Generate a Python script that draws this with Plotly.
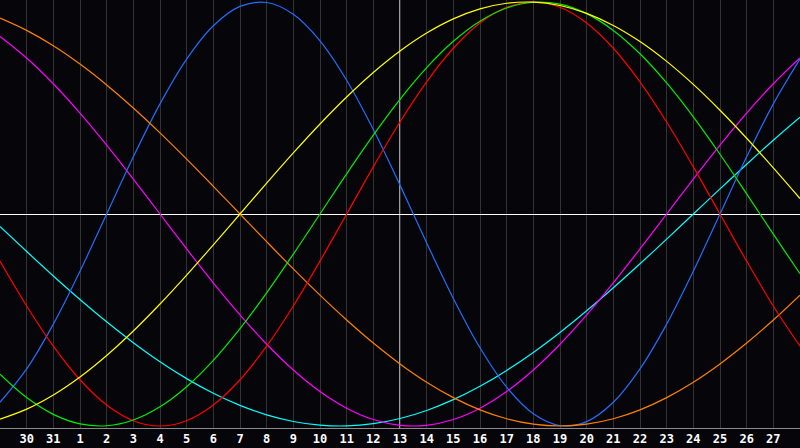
import plotly.graph_objects as go

# Day labels for each plotted day (index 0..30); ticks shown for 1..29
day_labels = ["29", "30", "31"] + [str(d) for d in range(1, 29)]
today_index = 15  # white vertical marker ("13")

# Values, one per day (index 0..30)
physical = [-0.8879, -0.7308, -0.5196, -0.2698, 0.0, 0.2698, 0.5196, 0.7308, 0.8879, 0.9791,
            0.9977, 0.9423, 0.8170, 0.6311, 0.3984, 0.1362, -0.1362, -0.3984, -0.6311, -0.8170,
            -0.9423, -0.9977, -0.9791, -0.8879, -0.7308, -0.5196, -0.2698, 0.0, 0.2698, 0.5196, 0.7308]
emotional = [-0.2225, -0.4339, -0.6235, -0.7818, -0.9010, -0.9749, -1.0, -0.9749, -0.9010, -0.7818,
             -0.6235, -0.4339, -0.2225, 0.0, 0.2225, 0.4339, 0.6235, 0.7818, 0.9010, 0.9749,
             1.0, 0.9749, 0.9010, 0.7818, 0.6235, 0.4339, 0.2225, 0.0, -0.2225, -0.4339, -0.6235]
intellectual = [-0.7557, -0.8660, -0.9450, -0.9898, -0.9989, -0.9718, -0.9096, -0.8146, -0.6901, -0.5406,
                -0.3717, -0.1893, 0.0, 0.1893, 0.3717, 0.5406, 0.6901, 0.8146, 0.9096, 0.9718,
                0.9989, 0.9898, 0.9450, 0.8660, 0.7557, 0.6182, 0.4582, 0.2817, 0.0951, -0.0951, -0.2817]
intuitive = [0.8372, 0.7357, 0.6142, 0.4759, 0.3247, 0.1646, 0.0, -0.1646, -0.3247, -0.4759,
             -0.6142, -0.7357, -0.8372, -0.9158, -0.9694, -0.9966, -0.9966, -0.9694, -0.9158, -0.8372,
             -0.7357, -0.6142, -0.4759, -0.3247, -0.1646, 0.0, 0.1646, 0.3247, 0.4759, 0.6142, 0.7357]
aesthetic = [-0.9675, -0.9203, -0.8536, -0.7687, -0.6673, -0.5518, -0.4245, -0.2881, -0.1456, 0.0,
             0.1456, 0.2881, 0.4245, 0.5518, 0.6673, 0.7687, 0.8536, 0.9203, 0.9675, 0.9940,
             0.9993, 0.9834, 0.9464, 0.8894, 0.8133, 0.7199, 0.6112, 0.4894, 0.3572, 0.2174, 0.0730]
awareness = [0.9239, 0.8660, 0.7934, 0.7071, 0.6088, 0.5, 0.3827, 0.2588, 0.1305, 0.0,
             -0.1305, -0.2588, -0.3827, -0.5, -0.6088, -0.7071, -0.7934, -0.8660, -0.9239, -0.9659,
             -0.9914, -1.0, -0.9914, -0.9659, -0.9239, -0.8660, -0.7934, -0.7071, -0.6088, -0.5, -0.3827]
spiritual = [-0.0592, -0.1769, -0.2921, -0.4031, -0.5085, -0.6068, -0.6966, -0.7765, -0.8456, -0.9028,
             -0.9473, -0.9786, -0.9960, -0.9996, -0.9890, -0.9646, -0.9267, -0.8757, -0.8125, -0.7378,
             -0.6528, -0.5586, -0.4566, -0.3482, -0.2349, -0.1183, 0.0, 0.1183, 0.2349, 0.3482, 0.4566]

series_names = ["Spiritual", "Intuitive", "Physical", "Awareness", "Emotional", "Intellectual", "Aesthetic"]
series_values = [spiritual, intuitive, physical, awareness, emotional, intellectual, aesthetic]
series_colors = ["#00ffff", "#ff00ff", "#1f6fff", "#ff8000", "#ff0000", "#00ee00", "#ffff00"]

x = list(range(len(day_labels)))

fig = go.Figure()
for name, vals, col in zip(series_names, series_values, series_colors):
    fig.add_trace(go.Scatter(x=x, y=vals, mode="lines", name=name,
                             line=dict(color=col, width=1.2, shape="spline", smoothing=1.0),
                             hoverinfo="skip"))

fig.add_shape(type="line", xref="x", yref="paper", x0=today_index, x1=today_index, y0=0, y1=1,
              line=dict(color="#ffffff", width=1.2), layer="below")

bg = "#060509"
fig.update_layout(
    width=800, height=448,
    margin=dict(l=0, r=0, t=0, b=20),
    paper_bgcolor=bg, plot_bgcolor=bg,
    showlegend=False,
    xaxis=dict(range=[0, len(day_labels) - 1], tickmode="array",
               tickvals=x[1:-1], ticktext=day_labels[1:-1],
               showgrid=True, gridcolor="#333333", gridwidth=1,
               zeroline=False, ticks="", showline=True, linecolor="#8a8a8a", linewidth=1, mirror=True,
               tickfont=dict(family="DejaVu Sans Mono", size=12, color="#ffffff", weight="bold"),
               fixedrange=True),
    yaxis=dict(range=[-1.0094, 1.0094], showgrid=False, showticklabels=False,
               zeroline=True, zerolinecolor="#ffffff", zerolinewidth=1.2,
               showline=True, linecolor="#8a8a8a", linewidth=1, mirror=True, fixedrange=True),
)

fig.write_html("out.html", config={"displayModeBar": False},
               post_script="document.body.style.margin='0';document.body.style.overflow='hidden';document.body.style.background='%s';" % bg)
